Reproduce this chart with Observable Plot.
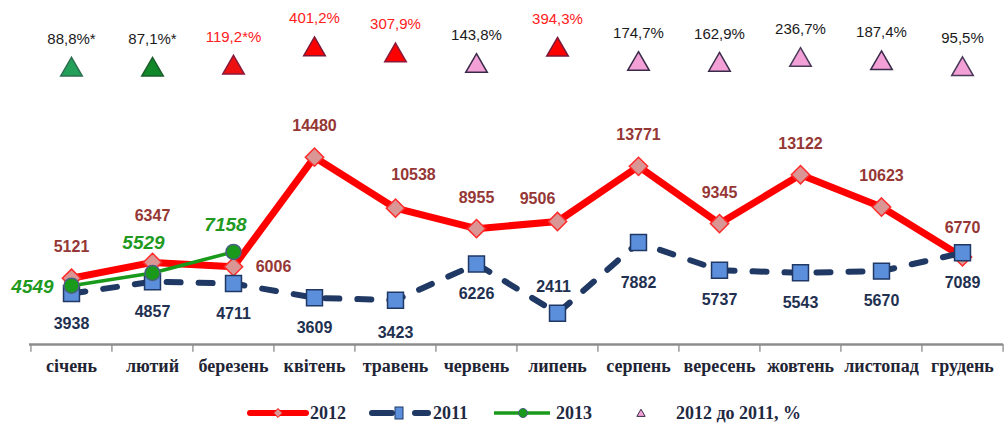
<!DOCTYPE html>
<html><head><meta charset="utf-8">
<script src="https://cdn.jsdelivr.net/npm/d3@7"></script>
<script src="https://cdn.jsdelivr.net/npm/@observablehq/plot@0.6"></script>
<style>
body{margin:0;background:#fff;width:1007px;height:425px;overflow:hidden;position:relative;}
#top{position:absolute;left:0;top:0;}
#main{position:absolute;left:0;top:100px;}
#legend{position:absolute;left:0;top:400px;}
</style></head><body>
<div id="top"></div><div id="main"></div><div id="legend"></div>
<script>
// ---------- DATA ----------
const months = ["січень","лютий","березень","квітень","травень","червень","липень","серпень","вересень","жовтень","листопад","грудень"];
const values2012 = [5121,6347,6006,14480,10538,8955,9506,13771,9345,13122,10623,6770];
const values2011 = [3938,4857,4711,3609,3423,6226,2411,7882,5737,5543,5670,7089];
const values2013 = [4549,5529,7158];
const ratio = [88.8,87.1,119.2,401.2,307.9,143.8,394.3,174.7,162.9,236.7,187.4,95.5];
const ratioLabels = ["88,8%*","87,1%*","119,2*%","401,2%","307,9%","143,8%","394,3%","174,7%","162,9%","236,7%","187,4%","95,5%"];
const seriesNames = ["2012","2011","2013","2012 до 2011, %"];

// ---------- STYLE / LAYOUT ----------
const W = 1007, ML = 29, MR = 4;
const step = (W - ML - MR) / months.length;
const SANS = '"Liberation Sans",Arial,sans-serif';
const SERIF = '"Liberation Serif","Times New Roman",serif';
const RED = "#ff0000", NAVY = "#1f3864", GREEN = "#1a9a1a";
const triFill   = ["#22a05a","#11882a","#ee1111","#ff0000","#ff0000","#f2a0d6","#ff0000","#f2a0d6","#f2a0d6","#f2a0d6","#f2a0d6","#f2a0d6"];
const triStroke = ["#2e6e50","#1b5e2a","#8a1a3a","#7a1a3a","#8a1a3a","#3a2a4a","#7a1a3a","#3a2a4a","#3a2a4a","#4a3a5a","#3a2a4a","#4a3a5a"];
const ratioColor = ["#1a1a1a","#1a1a1a","#ff2020","#ff2020","#ff2020","#1a1a1a","#ff2020","#1a1a1a","#1a1a1a","#1a1a1a","#1a1a1a","#1a1a1a"];
const off2012 = {1: [0, -47], 2: [40, 0], 4: [18, -33], 6: [-20, -23], 11: [0, -29]};
const off2011 = {6: [-4, -26], 7: [0, 40], 4: [0, 33]};
const off2013 = {0: [-39, 1], 1: [-9, -30], 2: [-8, -27]};

const diamond = {draw(ctx, size) { const h = Math.sqrt(size / 2); ctx.moveTo(0, -h); ctx.lineTo(h, 0); ctx.lineTo(0, h); ctx.lineTo(-h, 0); ctx.closePath(); }};

const rowsRatio = months.map((m, i) => ({month: m, ratio: ratio[i], label: ratioLabels[i], fill: triFill[i], stroke: triStroke[i], color: ratioColor[i]}));
const rows2012 = months.map((m, i) => ({month: m, value: values2012[i]}));
const rows2011 = months.map((m, i) => ({month: m, value: values2011[i]}));
const rows2013 = values2013.map((v, i) => ({month: months[i], value: v}));

function labelMarks(rows, offsets, def, opts) {
  return rows.map((r, i) => {
    const [dx, dy] = offsets[i] || def;
    return Plot.text([r], {x: "month", y: "value", text: d => String(d.value), dx, dy, ...opts});
  });
}

// ---------- TOP (ratio) ----------
const topChart = Plot.plot({
  width: W, height: 100, marginTop: 10, marginBottom: 25, marginLeft: ML, marginRight: MR,
  x: {type: "point", domain: months, padding: 0.5, axis: null},
  y: {domain: [0, 1000], axis: null},
  color: {type: "identity"},
  marks: [
    Plot.dot(rowsRatio, {x: "month", y: "ratio", symbol: "triangle", r: 8, fill: "fill", stroke: "stroke", strokeWidth: 1.5}),
    Plot.text(rowsRatio, {x: "month", y: "ratio", text: "label", dy: -31, fill: "color", fontSize: 15, fontFamily: SANS})
  ]
});
document.getElementById("top").appendChild(topChart);

// ---------- MAIN ----------
const mainChart = Plot.plot({
  width: W, height: 285, marginTop: 37, marginBottom: 41, marginLeft: ML, marginRight: MR,
  x: {type: "point", domain: months, padding: 0.5},
  y: {domain: [0, 16000], axis: null},
  marks: [
    Plot.ruleX(months, {x: d => d, dx: -step / 2, y1: 0, y2: -600, stroke: "#9a9a9a", strokeWidth: 1.5}),
    Plot.ruleX([months[months.length - 1]], {x: d => d, dx: step / 2, y1: 0, y2: -600, stroke: "#9a9a9a", strokeWidth: 1.5}),
    Plot.ruleY([0], {stroke: "#8c8c8c", strokeWidth: 2.5}),
    Plot.axisX({tickSize: 0, tickPadding: 15, fontSize: 18, fontWeight: "bold", fontFamily: SERIF, color: "#1f2535", label: null}),
    Plot.line(rows2012, {x: "month", y: "value", stroke: RED, strokeWidth: 7, strokeLinejoin: "round"}),
    Plot.dot(rows2012, {x: "month", y: "value", symbol: diamond, r: 7.3, fill: "#d99694", stroke: "#ff2a2a", strokeWidth: 1.5}),
    Plot.line(rows2011, {x: "month", y: "value", stroke: NAVY, strokeWidth: 6, strokeDasharray: "14,18", strokeLinecap: "round"}),
    Plot.dot(rows2011, {x: "month", y: "value", symbol: "square", r: 9, fill: "#5b8fdc", stroke: NAVY, strokeWidth: 1.5}),
    Plot.line(rows2013, {x: "month", y: "value", stroke: GREEN, strokeWidth: 3.5}),
    Plot.dot(rows2013, {x: "month", y: "value", r: 7.5, fill: GREEN, stroke: "#4a6080", strokeWidth: 1.5}),
    ...labelMarks(rows2012, off2012, [0, -31], {fill: "#953735", fontSize: 16, fontWeight: "bold", fontFamily: SANS}),
    ...labelMarks(rows2011, off2011, [0, 30], {fill: "#1f3050", fontSize: 16, fontWeight: "bold", fontFamily: SANS}),
    ...labelMarks(rows2013, off2013, [0, -30], {fill: "#1f9a1f", fontSize: 19, fontWeight: "bold", fontStyle: "italic", fontFamily: SANS})
  ]
});
document.getElementById("main").appendChild(mainChart);

// ---------- LEGEND ----------
const lg = d3.select("#legend").append("svg").attr("width", W).attr("height", 26)
  .style("font-family", SERIF).style("font-weight", "bold").style("font-size", "18px");
const cy = 13;
// 2012
lg.append("line").attr("x1", 250).attr("x2", 306).attr("y1", cy).attr("y2", cy).attr("stroke", RED).attr("stroke-width", 6).attr("stroke-linecap", "round");
lg.append("path").attr("d", d3.symbol(diamond, 40)()).attr("transform", `translate(278,${cy})`).attr("fill", "#d99694").attr("stroke", RED);
lg.append("text").attr("x", 310).attr("y", cy).attr("dy", "0.35em").attr("fill", "#1f2a44").text(seriesNames[0]);
// 2011
lg.append("line").attr("x1", 372).attr("x2", 392).attr("y1", cy).attr("y2", cy).attr("stroke", NAVY).attr("stroke-width", 6).attr("stroke-linecap", "round");
lg.append("rect").attr("x", 395).attr("y", cy - 6).attr("width", 8).attr("height", 12).attr("fill", "#5b8fdc").attr("stroke", NAVY);
lg.append("line").attr("x1", 415).attr("x2", 428).attr("y1", cy).attr("y2", cy).attr("stroke", NAVY).attr("stroke-width", 6).attr("stroke-linecap", "round");
lg.append("text").attr("x", 433).attr("y", cy).attr("dy", "0.35em").attr("fill", "#1f2a44").text(seriesNames[1]);
// 2013
lg.append("line").attr("x1", 494).attr("x2", 550).attr("y1", cy).attr("y2", cy).attr("stroke", GREEN).attr("stroke-width", 3.5);
lg.append("circle").attr("cx", 523).attr("cy", cy).attr("r", 4.5).attr("fill", GREEN).attr("stroke", "#4a6080");
lg.append("text").attr("x", 556).attr("y", cy).attr("dy", "0.35em").attr("fill", "#1f2a44").text(seriesNames[2]);
// ratio
lg.append("path").attr("d", d3.symbol(d3.symbolTriangle, 30)()).attr("transform", `translate(641,${cy + 1})`).attr("fill", "#f2a0d6").attr("stroke", "#3a2a4a");
lg.append("text").attr("x", 676).attr("y", cy).attr("dy", "0.35em").attr("fill", "#1f2a44").text(seriesNames[3]);
</script>
</body></html>
